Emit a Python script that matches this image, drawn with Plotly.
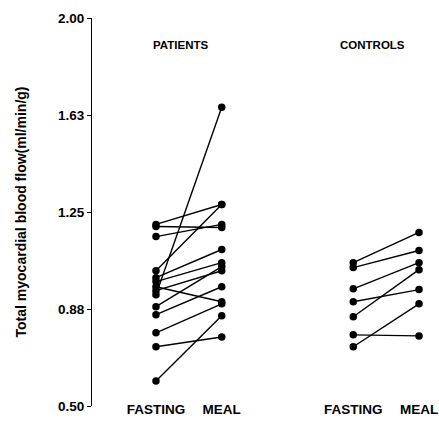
import plotly.graph_objects as go

# ---- data ----
groups = ["PATIENTS", "CONTROLS"]
conditions = ["FASTING", "MEAL"]
group_positions = [1, 4]          # x of the FASTING column of each group (MEAL = +1)

patients_fasting = [1.202, 1.194, 1.155, 1.023, 0.996, 0.981, 0.961, 0.946, 0.930, 0.884, 0.853, 0.783, 0.729, 0.597]
patients_meal    = [1.279, 1.190, 1.202, 1.279, 1.105, 1.054, 0.903, 1.023, 1.655, 1.039, 0.961, 0.895, 0.767, 0.849]

controls_fasting = [1.054, 1.035, 0.953, 0.903, 0.845, 0.775, 0.729]
controls_meal    = [1.171, 1.101, 1.054, 0.950, 1.027, 0.771, 0.895]

y_tickvals = [0.5, 0.875, 1.25, 1.625, 2.0]
y_ticktext = ["0.50", "0.88", "1.25", "1.63", "2.00"]
y_title = "Total myocardial blood flow(ml/min/g)"

FONT = "Liberation Sans, Arial, Helvetica, sans-serif"

fig = go.Figure()

series = [(patients_fasting, patients_meal), (controls_fasting, controls_meal)]
for gpos, (fast, meal) in zip(group_positions, series):
    xs, ys = [], []
    for f, m in zip(fast, meal):
        xs += [gpos, gpos + 1, None]
        ys += [f, m, None]
    fig.add_trace(go.Scatter(
        x=xs, y=ys, mode="lines+markers",
        line=dict(color="black", width=1.4),
        marker=dict(color="black", size=7.5),
        showlegend=False, hoverinfo="skip", cliponaxis=False,
    ))

# x tick labels: FASTING / MEAL under each group
x_tickvals, x_ticktext = [], []
for gpos in group_positions:
    for i, c in enumerate(conditions):
        x_tickvals.append(gpos + i)
        x_ticktext.append(c)

group_label_x = [1.38, 4.30]
for name, gx in zip(groups, group_label_x):
    fig.add_annotation(
        x=gx, y=1.895, xref="x", yref="y", text=name, showarrow=False,
        font=dict(family=FONT, size=11.5, color="black", weight="bold"),
    )

fig.update_layout(
    width=439, height=431,
    margin=dict(l=92, r=4, t=18, b=25),
    paper_bgcolor="white", plot_bgcolor="white",
    font=dict(family=FONT, color="black"),
    xaxis=dict(
        range=[0.027, 5.243], showgrid=False, zeroline=False, showline=False,
        tickvals=x_tickvals, ticktext=x_ticktext, ticks="",
        tickfont=dict(family=FONT, size=13.5, color="black", weight="bold"),
        ticklabelstandoff=-7, automargin=False,
    ),
    yaxis=dict(
        range=[0.5, 2.0], showgrid=False, zeroline=False,
        showline=True, linecolor="black", linewidth=1.2,
        ticks="outside", ticklen=4, tickcolor="black", tickwidth=1,
        tickvals=y_tickvals, ticktext=y_ticktext,
        tickfont=dict(family=FONT, size=13.5, color="black", weight="bold"),
        title=dict(text=y_title, standoff=28,
                   font=dict(family=FONT, size=14, color="black", weight="bold")),
        automargin=False,
    ),
)

fig.write_html("out.html", config={"displayModeBar": False},
               post_script="document.body.style.margin='0';")
